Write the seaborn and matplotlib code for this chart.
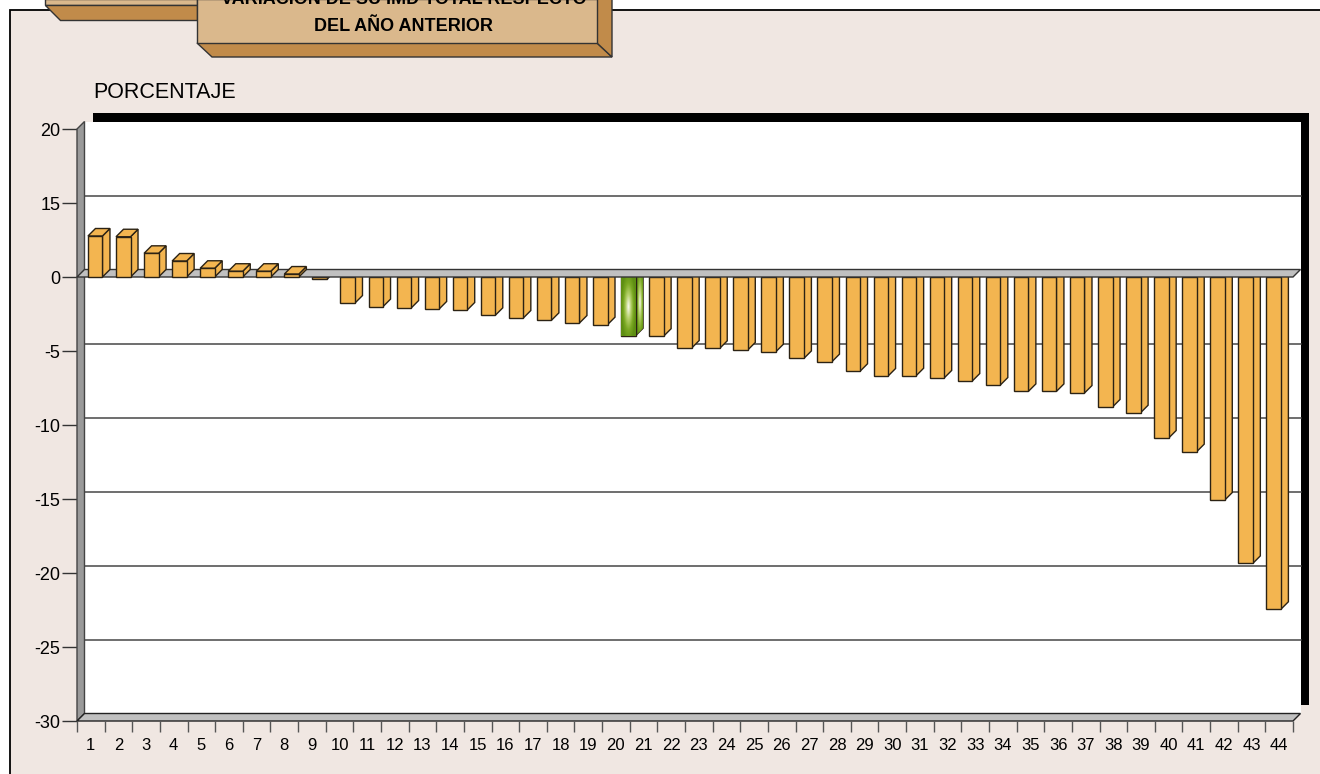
import numpy as np
import pandas as pd
import matplotlib
matplotlib.use("Agg")
import matplotlib.pyplot as plt
from matplotlib.patches import Polygon, Rectangle
from matplotlib.colors import LinearSegmentedColormap
import seaborn as sns

# --- data ---
bar_ids = [str(i) for i in range(1, 44)]
variacion = [2.77, 2.72, 1.6, 1.08, 0.59, 0.39, 0.39, 0.2, -0.16, -1.76,
             -2.0, -2.1, -2.16, -2.23, -2.59, -2.77, -2.93, -3.11, -3.22, -3.97,
             -4.0, -4.8, -4.82, -4.93, -5.05, -5.5, -5.72, -6.37, -6.69, -6.67,
             -6.82, -7.03, -7.3, -7.73, -7.73, -7.84, -8.78, -9.17, -10.88, -11.8,
             -15.07, -19.35, -22.45]
highlight = "20"
x_labels = [str(i) for i in range(1, 45)]
y_ticks = [10, 5, 0, -5, -10, -15, -20, -25, -30]
y_labels = ["20", "15", "0", "-5", "-10", "-15", "-20", "-25", "-30"]
grid_vals = [5, -5, -10, -15, -20, -25]
title_lines = ["VARIACIÓN DE SU IMD TOTAL RESPECTO", "DEL AÑO ANTERIOR"]
y_title = "PORCENTAJE"

W, H = 1320, 774
BG = "#F0E7E2"
ORANGE = "#F3B550"
GREEN = "#6E9E1A"
TAN = "#DAB88C"
TAN_DARK = "#C18B4A"

sns.set_theme(style="white")
plt.rcParams["font.family"] = ["Liberation Sans", "DejaVu Sans"]

fig = plt.figure(figsize=(W / 100, H / 100), dpi=100, facecolor="white")

# background layer in pixel units (frame + title box)
bg = fig.add_axes([0, 0, 1, 1])
bg.set_xlim(0, W)
bg.set_ylim(H, 0)
bg.axis("off")
bg.add_patch(Rectangle((10, 10), W, H, facecolor=BG, edgecolor="black", lw=1.3))
bg.add_patch(Polygon([(45, -1), (197, -1), (197, 4.5), (45, 4.5)], facecolor=TAN, edgecolor="#333", lw=1))
bg.add_patch(Polygon([(45, 4.5), (197, 4.5), (197, 19.5), (60, 19.5)], facecolor=TAN_DARK, edgecolor="#333", lw=1))
bg.add_patch(Polygon([(197, 43), (597, 43), (612, 57), (212, 57)], facecolor=TAN_DARK, edgecolor="#333", lw=1))
bg.add_patch(Polygon([(597, -1), (612, -1), (612, 57), (597, 43)], facecolor=TAN_DARK, edgecolor="#333", lw=1))
bg.add_patch(Rectangle((197, -1), 400, 44, facecolor=TAN, edgecolor="#333", lw=1))
for line, yy in zip(title_lines, [-0.5, 26.5]):
    bg.text(404, yy, line, ha="center", va="center", fontsize=13, fontweight="bold",
            color="black")
bg.text(93, 92, y_title, ha="left", va="center", fontsize=15.5, color="black")

# front plane of the 3D chart
L, R, T, B = 77, 1293, 129, 721
ax = fig.add_axes([L / W, (H - B) / H, (R - L) / W, (B - T) / H])
ax.patch.set_visible(False)

df = pd.DataFrame({"pais": bar_ids, "variacion": variacion})
pal = {b: (GREEN if b == highlight else ORANGE) for b in bar_ids}
sns.barplot(data=df, x="pais", y="variacion", hue="pais", palette=pal, legend=False,
            width=0.517, edgecolor="#2b2214", linewidth=1, saturation=1, ax=ax)

xmin, xmax = -0.649, 42.69
ymin, ymax = -30, 10
ax.set_xlim(xmin, xmax)
ax.set_ylim(ymin, ymax)
px_x = (R - L) / (xmax - xmin)
px_y = (B - T) / (ymax - ymin)
dx, dy = 7.5 / px_x, 7.5 / px_y
sx, sy = 8.5 / px_x, 8.5 / px_y

# back wall with its black shadow
ax.add_patch(Rectangle((xmin + dx + sx, ymin + dy + sy), xmax - xmin, ymax - ymin,
                       facecolor="black", edgecolor="none", zorder=0.1, clip_on=False))
ax.add_patch(Rectangle((xmin + dx, ymin + dy), xmax - xmin, ymax - ymin,
                       facecolor="white", edgecolor="none", zorder=0.2, clip_on=False))
for g in grid_vals:
    ax.plot([xmin + dx, xmax + dx], [g + dy, g + dy], color="#555555", lw=1.2,
            zorder=0.5, clip_on=False)

# left wall and bottom floor
ax.add_patch(Polygon([(xmin, ymin), (xmin + dx, ymin + dy), (xmin + dx, ymax + dy), (xmin, ymax)],
                     facecolor="#9A9A9A", edgecolor="#444", lw=1, zorder=1, clip_on=False))
ax.add_patch(Polygon([(xmin, ymin), (xmax, ymin), (xmax + dx, ymin + dy), (xmin + dx, ymin + dy)],
                     facecolor="#C0C0C0", edgecolor="#222", lw=1, zorder=1, clip_on=False))
# zero floor
ax.add_patch(Polygon([(xmin, 0), (xmax, 0), (xmax + dx, dy), (xmin + dx, dy)],
                     facecolor="#C0C0C0", edgecolor="#333", lw=1, zorder=3, clip_on=False))

green_cmap = LinearSegmentedColormap.from_list("g", ["#F6F8EA", "#B5D06A", "#7AA822", "#5E8E12"])


def gradient(patch, ext):
    yy, xx = np.mgrid[0:1:80j, 0:1:40j]
    d = np.sqrt(((xx - 0.5) / 0.5) ** 2 + ((yy - 0.5) / 0.6) ** 2)
    im = ax.imshow(np.clip(d, 0, 1), cmap=green_cmap, extent=ext, aspect="auto",
                   origin="lower", zorder=patch.get_zorder() + 0.05)
    im.set_clip_path(patch)


for p in list(ax.patches):
    if not isinstance(p, Rectangle) or p.get_width() > 1:
        continue
    x0, w, v = p.get_x(), p.get_width(), p.get_height()
    if p.get_y() < 0:
        v = p.get_y()
    x1 = x0 + w
    fc = p.get_facecolor()
    z = 4 if v > 0 else 2
    p.set_zorder(z)
    side = Polygon([(x1, 0), (x1 + dx, dy), (x1 + dx, v + dy), (x1, v)], facecolor=fc,
                   edgecolor="#2b2214", lw=1, zorder=z - 0.2)
    ax.add_patch(side)
    if v > 0:
        top = Polygon([(x0, v), (x1, v), (x1 + dx, v + dy), (x0 + dx, v + dy)], facecolor=fc,
                      edgecolor="#2b2214", lw=1, zorder=z - 0.1)
        ax.add_patch(top)
    if abs(fc[0] - 0x6E / 255) < 0.02 and abs(fc[1] - 0x9E / 255) < 0.02:
        gradient(p, (x0, x1, v, 0))
        gradient(side, (x1, x1 + dx, v, dy))

ax.set_yticks(y_ticks)
ax.set_yticklabels(y_labels)
ax.tick_params(axis="y", length=11, width=1, color="#333", pad=1, labelsize=13, labelcolor="black", left=True)
ax.set_xticks([])
ax.set_xlabel("")
ax.set_ylabel("")
for s in ax.spines.values():
    s.set_visible(False)

# category labels along the floor
ax2 = ax.twiny()
ax2.set_xlim(0.5, 44.5)
ax2.xaxis.set_ticks_position("bottom")
ax2.set_xticks(range(1, 45))
ax2.set_xticklabels(x_labels)
ax2.set_xticks(np.arange(0.5, 45, 1.0), minor=True)
ax2.tick_params(axis="x", which="major", length=0, pad=12, labelsize=12, labelcolor="black")
ax2.tick_params(axis="x", which="minor", length=8, width=1, color="#555", bottom=True, top=False)
ax2.tick_params(axis="x", top=False, labeltop=False)
for s in ax2.spines.values():
    s.set_visible(False)
ax2.patch.set_visible(False)

fig.savefig("out.png", dpi=100, facecolor=fig.get_facecolor())
